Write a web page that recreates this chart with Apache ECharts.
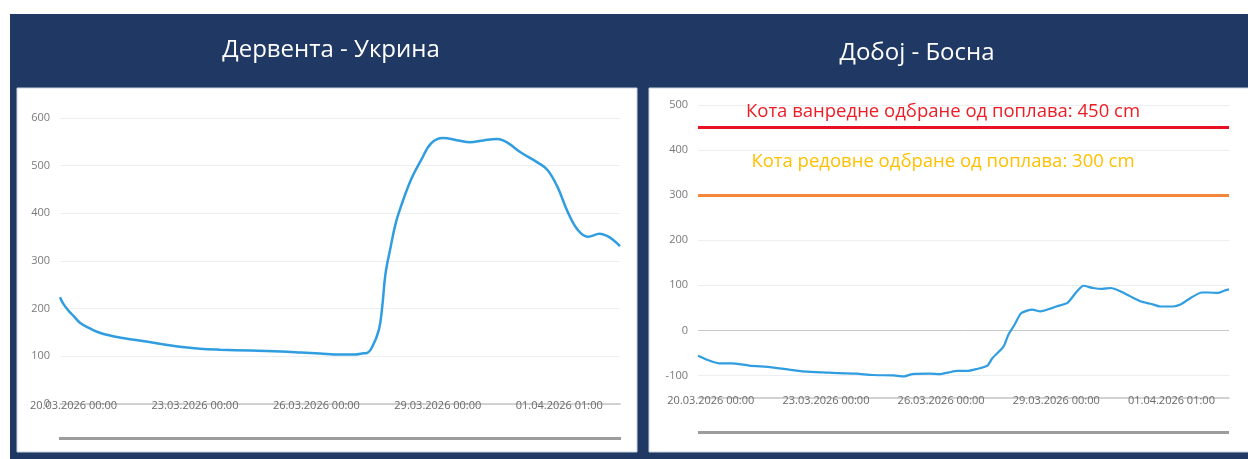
<!doctype html>
<html lang="sr">
<head>
<meta charset="UTF-8">
<title>Водостај</title>
<style>
  html, body { margin: 0; padding: 0; background: #fff; }
  #chart { width: 1248px; height: 459px; }
</style>
</head>
<body>
<div id="chart"></div>
<script src="https://cdn.jsdelivr.net/npm/echarts@6/dist/echarts.min.js"></script>
<script>
// sati od 20.03.2026 00:00
var tickHours = [0, 72, 144, 216, 288];
var tickLabels = ['20.03.2026 00:00', '23.03.2026 00:00', '26.03.2026 00:00', '29.03.2026 00:00', '01.04.2026 01:00'];

// Дервента - Укрина
var derventaHours = [-8, -6, -3, 0, 4, 10, 16, 28, 36, 52, 63, 75, 87, 105, 123, 135, 146, 158, 167, 171, 174,
    177, 181, 183, 185, 188, 191, 194, 200, 206, 212, 219, 228, 235, 243, 251, 257, 265, 275, 281, 287,
    293, 299, 305, 312, 316, 320, 324];
var derventaLevel = [224, 210, 196, 185, 170, 158, 149, 139, 135, 126, 120, 116, 114, 112, 110, 108, 106, 104, 104, 106, 107,
    119, 155, 203, 274, 329, 379, 413, 470, 511, 547, 558, 553, 549, 553, 556, 549, 528, 507, 491, 455,
    403, 365, 351, 357, 353, 344, 331];

// Добој - Босна
var dobojHours = [-8, -1, 5, 13, 24, 38, 49, 57, 70, 80, 91, 101, 114, 121, 126, 137, 143, 149, 154, 160,
    166, 173, 176, 183, 186, 190, 194, 201, 206, 212, 216, 223, 229, 233, 239, 245, 250, 256, 262, 269,
    275, 281, 289, 294, 300, 307, 311, 317, 321, 324];
var dobojLevel = [-56, -67, -73, -73, -78, -82, -87, -91, -93, -95, -96, -99, -100, -102, -97, -96, -97, -93, -90, -90,
    -86, -78, -62, -36, -10, 13, 38, 46, 42, 48, 53, 61, 87, 99, 94, 92, 94, 87, 76, 64,
    59, 53, 53, 58, 72, 84, 84, 83, 88, 91];

var levelRedovna = 300;
var levelVanredna = 450;

function pairs(xs, ys) {
    var out = [];
    for (var i = 0; i < xs.length; i++) {
        out.push([xs[i], ys[i]]);
    }
    return out;
}

var chart = echarts.init(document.getElementById('chart'));

var navy = '#203864';
var lineBlue = '#2f9de0';
var labelFont = '"Open Sans", "Noto Sans", sans-serif';

function xAxisFor(gridIndex, margin) {
    return {
        type: 'value',
        gridIndex: gridIndex,
        min: -8,
        max: 324,
        axisLine: { onZero: false, lineStyle: { color: '#c4c4c4', width: 1.5 } },
        axisTick: { show: false },
        splitLine: { show: false },
        axisLabel: {
            customValues: tickHours,
            margin: margin,
            color: '#6a6a6a',
            fontSize: 11,
            fontFamily: labelFont,
            formatter: function (v) {
                var i = tickHours.indexOf(v);
                return i >= 0 ? tickLabels[i] : '';
            }
        }
    };
}

// boje linija mreže za desni graf: od -150 do 500 po 50
var dobojSplitColors = ['transparent', '#eceef2', 'transparent', '#c8c8c8', 'transparent', '#eceef2', 'transparent',
    '#eceef2', 'transparent', '#eceef2', 'transparent', '#eceef2', 'transparent', '#eceef2'];

var option = {
    animation: false,
    graphic: [
        { type: 'rect', z: -10, shape: { x: 10, y: 14, width: 1238, height: 445 }, style: { fill: navy } },
        { type: 'rect', z: -9, shape: { x: 17, y: 88, width: 620, height: 364 }, style: { fill: '#fff', stroke: '#c9d2df', lineWidth: 1 } },
        { type: 'rect', z: -9, shape: { x: 649, y: 88, width: 600, height: 364 }, style: { fill: '#fff', stroke: '#c9d2df', lineWidth: 1 } },
        { type: 'text', z: 5, style: { x: 331, y: 50, text: 'Дервента - Укрина', fill: '#fff', font: '24px "Open Sans", sans-serif', align: 'center', verticalAlign: 'middle' } },
        { type: 'text', z: 5, style: { x: 917, y: 53, text: 'Добој - Босна', fill: '#fff', font: '24px "Open Sans", sans-serif', align: 'center', verticalAlign: 'middle' } },
        { type: 'rect', z: 5, shape: { x: 59, y: 437, width: 562, height: 3 }, style: { fill: '#9c9c9c' } },
        { type: 'rect', z: 5, shape: { x: 698, y: 431, width: 531, height: 3 }, style: { fill: '#9c9c9c' } },
        { type: 'text', z: 5, style: { x: 943, y: 112, text: 'Кота ванредне одбране од поплава: 450 cm', fill: '#ee1c25', font: '18.5px "Open Sans", sans-serif', align: 'center', verticalAlign: 'middle' } },
        { type: 'text', z: 5, style: { x: 943, y: 162, text: 'Кота редовне одбране од поплава: 300 cm', fill: '#ffc000', font: '18.5px "Open Sans", sans-serif', align: 'center', verticalAlign: 'middle' } }
    ],
    grid: [
        { left: 60, right: 628, top: 118, bottom: 55 },
        { left: 698, right: 19, top: 105, bottom: 61 }
    ],
    xAxis: [xAxisFor(0, -4), xAxisFor(1, -3)],
    yAxis: [
        {
            type: 'value', gridIndex: 0, min: 0, max: 600, interval: 100,
            axisLine: { show: false }, axisTick: { show: false },
            splitLine: { lineStyle: { color: '#eceef2', width: 1 } },
            axisLabel: { color: '#7a7a7a', fontSize: 11, fontFamily: labelFont, margin: 10 }
        },
        {
            type: 'value', gridIndex: 1, min: -150, max: 500, interval: 50,
            axisLine: { show: false }, axisTick: { show: false },
            splitLine: { lineStyle: { color: dobojSplitColors, width: 1 } },
            axisLabel: {
                color: '#7a7a7a', fontSize: 11, fontFamily: labelFont, margin: 10,
                formatter: function (v) { return v % 100 === 0 ? v : ''; }
            }
        }
    ],
    series: [
        {
            name: 'Дервента - Укрина', type: 'line', xAxisIndex: 0, yAxisIndex: 0,
            data: pairs(derventaHours, derventaLevel),
            smooth: 0.4, showSymbol: false,
            lineStyle: { color: lineBlue, width: 2.5 }
        },
        {
            name: 'Добој - Босна', type: 'line', xAxisIndex: 1, yAxisIndex: 1,
            data: pairs(dobojHours, dobojLevel),
            smooth: 0.2, showSymbol: false,
            lineStyle: { color: lineBlue, width: 2.2 },
            markLine: {
                silent: true, symbol: 'none', label: { show: false },
                data: [
                    { yAxis: levelVanredna, lineStyle: { color: '#e81123', width: 3, type: 'solid' } },
                    { yAxis: levelRedovna, lineStyle: { color: '#f5873a', width: 3, type: 'solid' } }
                ]
            }
        }
    ]
};

chart.setOption(option);
</script>
</body>
</html>
